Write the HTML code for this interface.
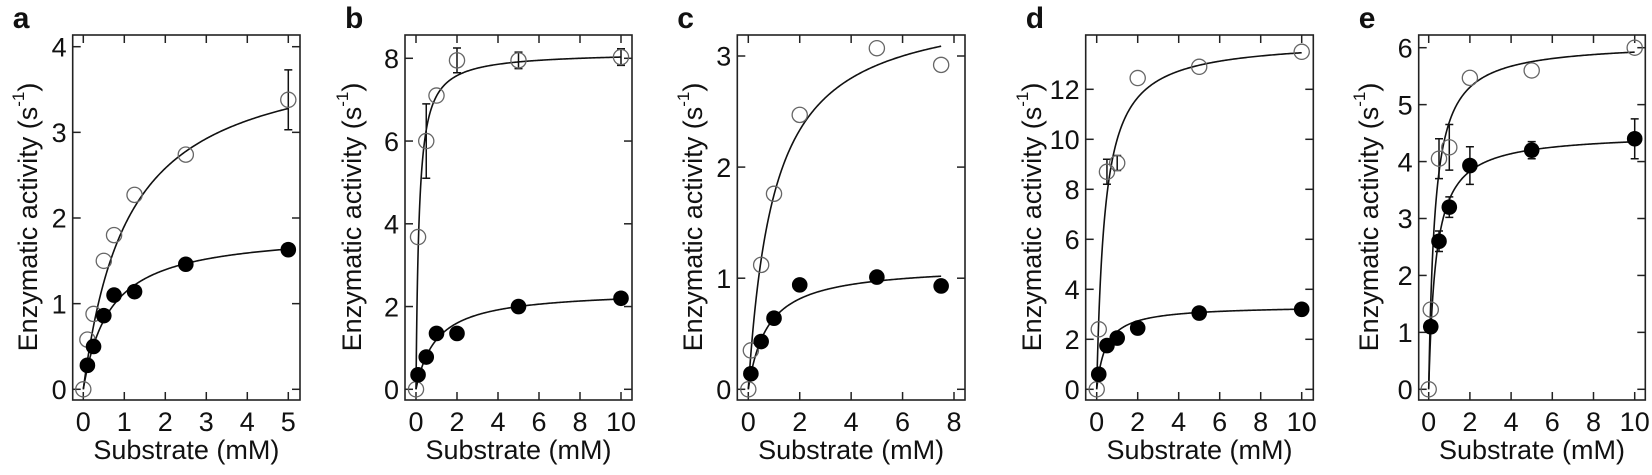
<!DOCTYPE html>
<html><head><meta charset="utf-8"><style>
html,body{margin:0;padding:0;background:#fff;}
svg{display:block;font-family:"Liberation Sans",Arial,sans-serif;}
</style></head><body>
<svg id="s" width="1652" height="475" viewBox="0 0 1652 475" xmlns="http://www.w3.org/2000/svg"></svg>
<script>
const P=[
 {L:'a',fl:72.7,fr:300,x0:83.3,x1:288.3,xm:5,xt:[0,1,2,3,4,5],y0:389.3,y1:46.7,ym:4,yt:[0,1,2,3,4],ylx:28,
  o:[[0,0],[0.1,0.58],[0.25,0.88],[0.5,1.5],[0.75,1.8],[1.25,2.27],[2.5,2.74],[5,3.38,0.35]],oV:4.0,oK:1.1,oe:5,
  f:[[0.1,0.28],[0.25,0.5],[0.5,0.86],[0.75,1.1],[1.25,1.14],[2.5,1.46],[5,1.63]],fV:1.85,fK:0.65,fe:5},
 {L:'b',fl:405,fr:632,x0:416,x1:621,xm:10,xt:[0,2,4,6,8,10],y0:389.3,y1:58.3,ym:8,yt:[0,2,4,6,8],ylx:352,
  o:[[0,0],[0.1,3.68],[0.5,6.0,0.9],[1,7.1],[2,7.95,0.3],[5,7.95,0.2],[10,8.03,0.2]],oV:8.15,oK:0.15,oe:10,
  f:[[0.1,0.35],[0.5,0.78],[1,1.35],[2,1.35],[5,2.0],[10,2.2,0.1]],fV:2.4,fK:1.0,fe:10},
 {L:'c',fl:737.3,fr:965,x0:748.3,x1:954,xm:8,xt:[0,2,4,6,8],y0:389.3,y1:56,ym:3,yt:[0,1,2,3],ylx:693,
  o:[[0,0],[0.1,0.35],[0.5,1.12],[1,1.76],[2,2.47],[5,3.07],[7.5,2.92]],oV:3.5,oK:1.0,oe:7.5,
  f:[[0.1,0.14],[0.5,0.43],[1,0.64],[2,0.94],[5,1.01],[7.5,0.93,0.05]],fV:1.12,fK:0.75,fe:7.5},
 {L:'d',fl:1085.7,fr:1313.3,x0:1096.7,x1:1301.7,xm:10,xt:[0,2,4,6,8,10],y0:389.3,y1:89.3,ym:12,yt:[0,2,4,6,8,10,12],ylx:1032,
  o:[[0,0],[0.1,2.4],[0.5,8.7,0.5],[1,9.05,0.3],[2,12.45],[5,12.9],[10,13.5]],oV:14,oK:0.4,oe:10,
  f:[[0.1,0.6],[0.5,1.75],[1,2.05],[2,2.45],[5,3.05],[10,3.2]],fV:3.35,fK:0.45,fe:10},
 {L:'e',fl:1418.7,fr:1645.3,x0:1428.7,x1:1634.7,xm:10,xt:[0,2,4,6,8,10],y0:389.3,y1:47.7,ym:6,yt:[0,1,2,3,4,5,6],ylx:1369,
  o:[[0,0],[0.1,1.4],[0.5,4.05,0.35],[1,4.25,0.4],[2,5.47],[5,5.6],[10,6.0]],oV:6.1,oK:0.3,oe:10,
  f:[[0.1,1.1],[0.5,2.6,0.18],[1,3.2,0.18],[2,3.93,0.33],[5,4.2,0.15],[10,4.4,0.35]],fV:4.5,fK:0.35,fe:10}
];
let h='';
const T=35,B=400,tk=8,FS=27;
for(const p of P){
 const X=v=>p.x0+(p.x1-p.x0)*v/p.xm, Y=v=>p.y0+(p.y1-p.y0)*v/p.ym;
 h+=`<rect x="${p.fl}" y="${T}" width="${p.fr-p.fl}" height="${B-T}" fill="none" stroke="#222" stroke-width="1.6"/>`;
 for(const t of p.xt){const x=X(t);
  h+=`<line x1="${x}" y1="${B}" x2="${x}" y2="${B-tk}" stroke="#222" stroke-width="1.5"/><line x1="${x}" y1="${T}" x2="${x}" y2="${T+tk}" stroke="#222" stroke-width="1.5"/>`;
  h+=`<text x="${x}" y="431" font-size="${FS}" text-anchor="middle" fill="#111">${t}</text>`;}
 for(const t of p.yt){const y=Y(t);
  h+=`<line x1="${p.fl}" y1="${y}" x2="${p.fl+tk}" y2="${y}" stroke="#222" stroke-width="1.5"/><line x1="${p.fr}" y1="${y}" x2="${p.fr-tk}" y2="${y}" stroke="#222" stroke-width="1.5"/>`;
  h+=`<text x="${p.fl-6}" y="${y+9.7}" font-size="${FS}" text-anchor="end" fill="#111">${t}</text>`;}
 h+=`<text x="${(p.fl+p.fr)/2}" y="459" font-size="${FS}" text-anchor="middle" fill="#111">Substrate (mM)</text>`;
 h+=`<text transform="translate(${p.ylx+9},217) rotate(-90)" font-size="${FS}" text-anchor="middle" fill="#111">Enzymatic activity (s<tspan dy="-13" font-size="17">-1</tspan><tspan dy="13">)</tspan></text>`;
 h+=`<text x="${p.fl-60}" y="28" font-size="30" font-weight="bold" fill="#111">${p.L}</text>`;
 const curve=(V,K,e)=>{let d='';for(let i=0;i<=300;i++){const s=e*Math.pow(i/300,2);d+=(i?'L':'M')+X(s).toFixed(2)+' '+Y(V*s/(K+s)).toFixed(2);}return `<path d="${d}" fill="none" stroke="#111" stroke-width="1.6"/>`;};
 h+=curve(p.oV,p.oK,p.oe)+curve(p.fV,p.fK,p.fe);
 const eb=(pt)=>{if(pt.length<3)return '';const x=X(pt[0]),a=Y(pt[1]+pt[2]),b=Y(pt[1]-pt[2]);return `<path d="M${x} ${a}V${b}M${x-4} ${a}H${x+4}M${x-4} ${b}H${x+4}" stroke="#111" stroke-width="1.5" fill="none"/>`;};
 for(const pt of p.o){h+=eb(pt)+`<circle cx="${X(pt[0])}" cy="${Y(pt[1])}" r="7.6" fill="none" stroke="#666" stroke-width="1.3"/>`;}
 for(const pt of p.f){h+=eb(pt)+`<circle cx="${X(pt[0])}" cy="${Y(pt[1])}" r="7.8" fill="#000"/>`;}
}
document.getElementById('s').innerHTML=h;
</script>
</body></html>
